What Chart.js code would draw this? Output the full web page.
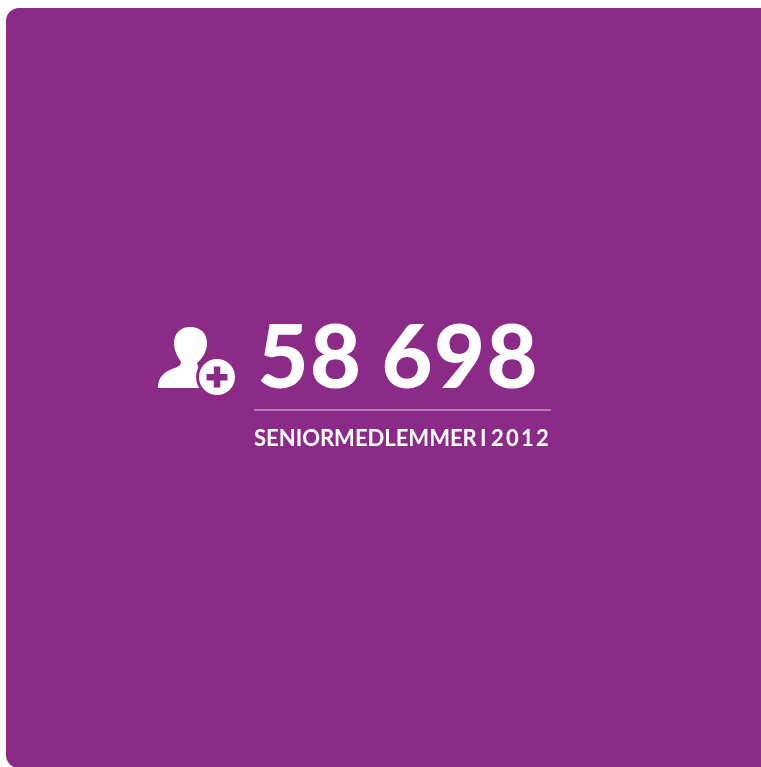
<!DOCTYPE html>
<html>
<head>
<meta charset="UTF-8">
<title>Seniormedlemmer 2012</title>
<script src="https://cdn.jsdelivr.net/npm/chart.js"></script>
<style>
    html, body { margin: 0; padding: 0; background: #fff; overflow: hidden; }
    canvas { display: block; }
</style>
</head>
<body>
<canvas id="kpi" width="761" height="767"></canvas>
<script>
    const categories = ['SENIORMEDLEMMER I 2012'];
    const memberCounts = [58698];

    const purple = '#8b2a87';

    // 58698 -> "58 698"
    function formatCount(n) {
        return String(n).replace(/\B(?=(\d{3})+$)/g, ' ');
    }

    function drawIcon(ctx) {
        ctx.fillStyle = '#fff';
        ctx.beginPath();
        ctx.moveTo(158, 388);
        ctx.bezierCurveTo(158, 376, 165, 372, 172, 369);
        ctx.bezierCurveTo(177, 367, 181, 366, 181, 362);
        ctx.bezierCurveTo(178, 357, 174, 351, 174, 343);
        ctx.bezierCurveTo(174, 333, 181, 327, 190, 327);
        ctx.bezierCurveTo(200, 327, 207, 333, 207, 343);
        ctx.bezierCurveTo(207, 351, 203, 358, 197, 363);
        ctx.lineTo(205, 388);
        ctx.closePath();
        ctx.fill();

        // badge with a gap round it
        ctx.fillStyle = purple;
        ctx.beginPath();
        ctx.arc(217, 377, 21, 0, Math.PI * 2);
        ctx.fill();
        ctx.fillStyle = '#fff';
        ctx.beginPath();
        ctx.arc(217, 377, 18, 0, Math.PI * 2);
        ctx.fill();
        ctx.fillStyle = purple;
        ctx.fillRect(206.5, 374, 21, 6.5);
        ctx.fillRect(213.8, 366.5, 6.5, 21);
    }

    const cardPlugin = {
        id: 'card',
        beforeDraw(chart) {
            const ctx = chart.ctx;
            ctx.save();
            ctx.fillStyle = purple;
            ctx.beginPath();
            ctx.roundRect(6, 8, 780, 760, 13);
            ctx.fill();

            drawIcon(ctx);

            ctx.fillStyle = '#fff';
            ctx.textBaseline = 'alphabetic';
            ctx.textAlign = 'left';
            ctx.font = '900 88px Lato';
            ctx.letterSpacing = '1.5px';
            ctx.wordSpacing = '-3.5px';
            ctx.fillText(formatCount(chart.data.datasets[0].data[0]), 257.5, 388);

            ctx.fillStyle = 'rgba(255,255,255,0.75)';
            ctx.fillRect(254, 409.5, 297, 1);

            // the year sits a bit looser than the words in the original
            const label = chart.data.labels[0];
            const cut = label.lastIndexOf(' ');
            ctx.fillStyle = '#fff';
            ctx.font = '700 22px Lato';
            ctx.letterSpacing = '0px';
            ctx.wordSpacing = '-2px';
            ctx.fillText(label.slice(0, cut), 254, 446);
            ctx.letterSpacing = '2.2px';
            ctx.fillText(label.slice(cut + 1), 491, 446);
            ctx.restore();
        }
    };

    new Chart(document.getElementById('kpi'), {
        type: 'bar',
        data: {
            labels: categories,
            datasets: [{ data: memberCounts, backgroundColor: 'transparent' }]
        },
        options: {
            responsive: false,
            animation: false,
            plugins: { legend: { display: false }, tooltip: { enabled: false } },
            scales: { x: { display: false }, y: { display: false } }
        },
        plugins: [cardPlugin]
    });
</script>
</body>
</html>
